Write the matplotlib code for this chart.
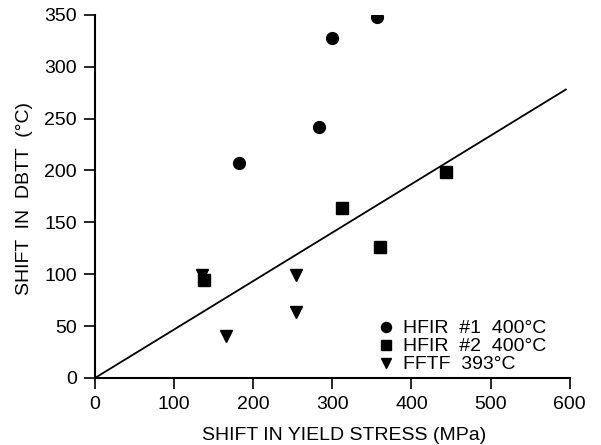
import matplotlib
matplotlib.use("Agg")
from matplotlib import pyplot as plt

plt.rcParams['font.family'] = ['Liberation Sans', 'DejaVu Sans']

# data
hfir1_x = [182, 283, 299, 356]
hfir1_y = [207, 242, 328, 348]
hfir2_x = [138, 312, 360, 444]
hfir2_y = [94, 164, 126, 199]
fftf_x = [135, 165, 254, 254]
fftf_y = [99, 40, 99, 64]
fit_x = [0, 595]
fit_y = [0, 278]

x_ticks = [0, 100, 200, 300, 400, 500, 600]
y_ticks = [0, 50, 100, 150, 200, 250, 300, 350]

fig = plt.figure(figsize=(6.01, 4.45), dpi=100)
ax = fig.add_axes([0.158, 0.1506, 0.79, 0.816])

ax.plot(fit_x, fit_y, 'k', linewidth=1.3)
ax.plot(hfir1_x, hfir1_y, 'ko', markersize=8.5, linestyle='none', label='HFIR  #1  400°C')
ax.plot(hfir2_x, hfir2_y, 'ks', markersize=8, linestyle='none', label='HFIR  #2  400°C')
ax.plot(fftf_x, fftf_y, 'kv', markersize=8, linestyle='none', label='FFTF  393°C')

ax.set_xlim(0, 600)
ax.set_ylim(0, 350)
ax.set_xticks(x_ticks)
ax.set_yticks(y_ticks)
ax.spines['top'].set_visible(False)
ax.spines['right'].set_visible(False)
ax.spines['left'].set_linewidth(1.5)
ax.spines['bottom'].set_linewidth(1.5)
ax.tick_params(direction='out', length=8, width=1.2, labelsize=14, pad=5)

ax.set_xlabel('SHIFT IN YIELD STRESS (MPa)', fontsize=14)
ax.set_ylabel('SHIFT  IN  DBTT  (°C)', fontsize=14)
ax.xaxis.set_label_coords(0.524, -0.136)
ax.yaxis.set_label_coords(-0.13, 0.493)

ax.legend(loc='lower right', bbox_to_anchor=(0.98, -0.025), frameon=False, fontsize=14,
          markerscale=0.85, handlelength=0.8, handletextpad=0.5, labelspacing=0.02,
          borderpad=0.2)

plt.savefig('out.png', dpi=100)
